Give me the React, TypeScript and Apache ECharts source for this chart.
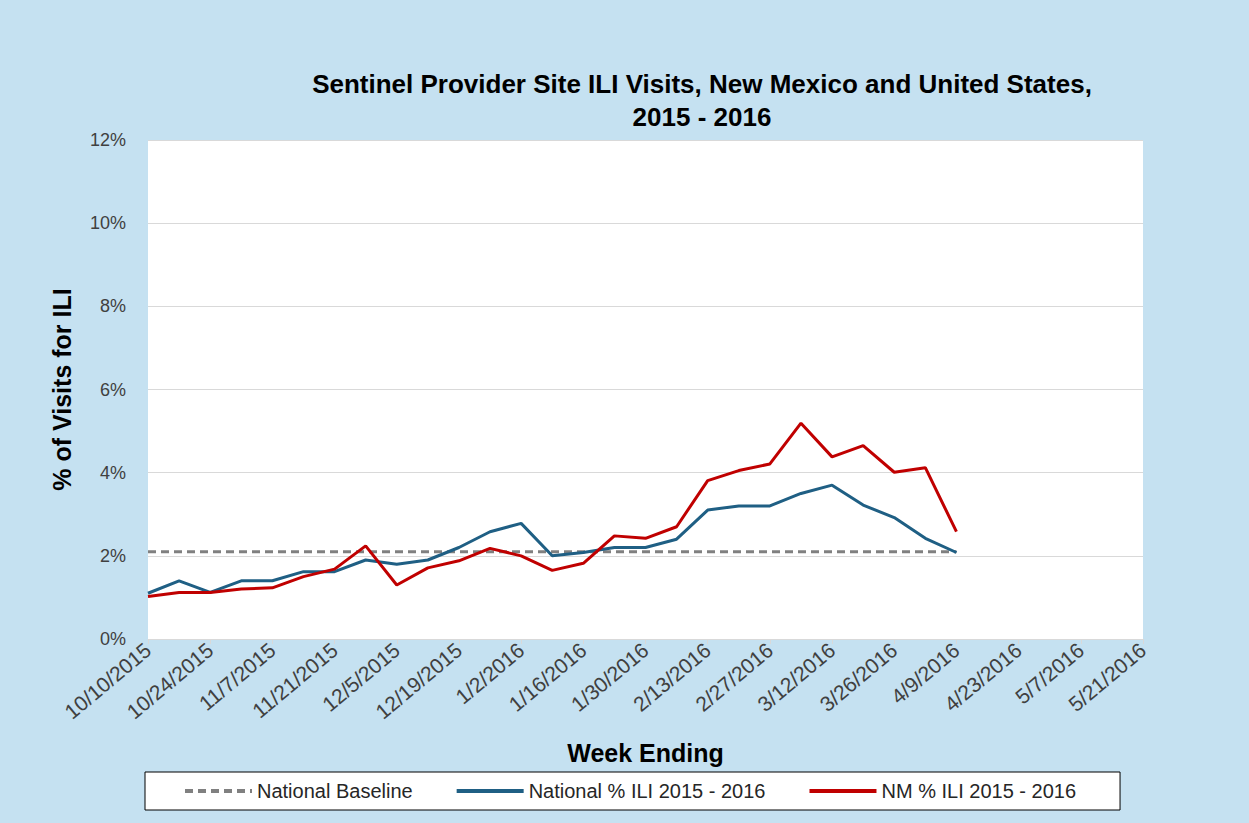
import React, { useEffect, useRef } from "react";
import * as echarts from "echarts";

const weeks = [
  "10/10/2015", "10/17/2015", "10/24/2015", "10/31/2015", "11/7/2015", "11/14/2015",
  "11/21/2015", "11/28/2015", "12/5/2015", "12/12/2015", "12/19/2015", "12/26/2015",
  "1/2/2016", "1/9/2016", "1/16/2016", "1/23/2016", "1/30/2016", "2/6/2016",
  "2/13/2016", "2/20/2016", "2/27/2016", "3/5/2016", "3/12/2016", "3/19/2016",
  "3/26/2016", "4/2/2016", "4/9/2016", "4/16/2016", "4/23/2016", "4/30/2016",
  "5/7/2016", "5/14/2016", "5/21/2016",
];

const nationalBaseline = [
  2.1, 2.1, 2.1, 2.1, 2.1, 2.1, 2.1, 2.1, 2.1, 2.1, 2.1, 2.1, 2.1, 2.1,
  2.1, 2.1, 2.1, 2.1, 2.1, 2.1, 2.1, 2.1, 2.1, 2.1, 2.1, 2.1, 2.1,
];

const nationalILI = [
  1.1, 1.4, 1.12, 1.4, 1.4, 1.62, 1.62, 1.9, 1.8, 1.9, 2.2, 2.58, 2.78, 2.0,
  2.08, 2.2, 2.2, 2.4, 3.1, 3.2, 3.2, 3.5, 3.7, 3.22, 2.92, 2.42, 2.08,
];

const nmILI = [
  1.02, 1.12, 1.12, 1.2, 1.23, 1.5, 1.68, 2.24, 1.3, 1.71, 1.88, 2.18, 2.0, 1.65,
  1.82, 2.48, 2.42, 2.7, 3.81, 4.05, 4.21, 5.19, 4.38, 4.65, 4.01, 4.12, 2.58,
];

const yTicks = { min: 0, max: 12, interval: 2 };

export default function App() {
  const ref = useRef<HTMLDivElement>(null);
  useEffect(() => {
    if (!ref.current) return;
    const chart = echarts.init(ref.current, null, { renderer: "svg" });
    const font = "'Liberation Sans', Arial, sans-serif";
    chart.setOption({
      animation: false,
      backgroundColor: "#C5E1F1",
      textStyle: { fontFamily: font },
      title: {
        text: "Sentinel Provider Site ILI Visits, New Mexico and United States,\n2015 - 2016",
        left: 697,
        textAlign: "center",
        top: 62,
        textStyle: { fontSize: 26, fontWeight: "bold", color: "#000", lineHeight: 33, fontFamily: font },
      },
      grid: { left: 148, right: 106, top: 140, bottom: 184, backgroundColor: "#fff", show: true, borderWidth: 0 },
      legend: {
        bottom: 13,
        left: 145,
        itemGap: 42,
        padding: [9, 44, 9, 38],
        backgroundColor: "#fff",
        borderColor: "#000",
        borderWidth: 1,
        itemWidth: 67,
        itemHeight: 12,
        itemStyle: { opacity: 0 },
        lineStyle: { width: 4 },
        textStyle: { fontSize: 20, color: "#262626", fontFamily: font },
        data: ["National Baseline", "National % ILI 2015 - 2016", "NM % ILI 2015 - 2016"],
      },
      xAxis: {
        type: "category",
        data: weeks,
        boundaryGap: false,
        name: "Week Ending",
        nameLocation: "middle",
        nameGap: 101,
        nameTextStyle: { fontSize: 25, fontWeight: "bold", color: "#000", fontFamily: font },
        axisLine: { lineStyle: { color: "#d9d9d9" } },
        axisTick: { show: true, interval: 1, length: 5, lineStyle: { color: "#d9d9d9" } },
        axisLabel: { interval: 1, rotate: 40, fontSize: 21, color: "#404040", margin: 8 },
        splitLine: { show: false },
      },
      yAxis: {
        type: "value",
        min: yTicks.min,
        max: yTicks.max,
        interval: yTicks.interval,
        name: "% of Visits for ILI",
        nameLocation: "middle",
        nameGap: 74,
        nameTextStyle: { fontSize: 25, fontWeight: "bold", color: "#000", fontFamily: font },
        axisLine: { show: false },
        axisTick: { show: false },
        axisLabel: { formatter: "{value}%", fontSize: 18, color: "#404040", margin: 22 },
        splitLine: { lineStyle: { color: "#d9d9d9", width: 1 } },
      },
      series: [
        {
          name: "National Baseline",
          type: "line",
          data: nationalBaseline,
          symbol: "none",
          lineStyle: { color: "#808080", width: 3, type: [8, 5] },
          itemStyle: { color: "#808080" },
          z: 1,
        },
        {
          name: "National % ILI 2015 - 2016",
          type: "line",
          data: nationalILI,
          symbol: "none",
          lineStyle: { color: "#1F5F84", width: 3 },
          itemStyle: { color: "#1F5F84" },
          z: 2,
        },
        {
          name: "NM % ILI 2015 - 2016",
          type: "line",
          data: nmILI,
          symbol: "none",
          lineStyle: { color: "#C00000", width: 3 },
          itemStyle: { color: "#C00000" },
          z: 3,
        },
      ],
    });
    return () => chart.dispose();
  }, []);
  return (
    <div style={{ position: "absolute", left: 0, top: 0, width: 1249, height: 823 }}>
      <div ref={ref} style={{ width: 1249, height: 823 }} />
    </div>
  );
}
